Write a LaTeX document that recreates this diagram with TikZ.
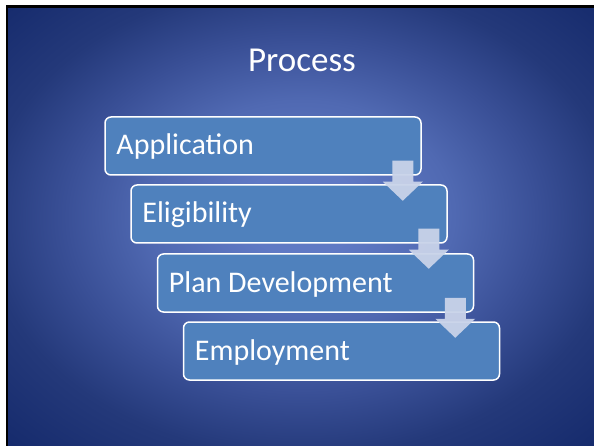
\documentclass[tikz,border=0pt]{standalone}
\usepackage{fontspec}
\setmainfont{Carlito}
\usetikzlibrary{calc}
\definecolor{bgin}{HTML}{5F79C4}
\definecolor{bgA}{HTML}{5069B2}
\definecolor{bgB}{HTML}{3A5097}
\definecolor{bgC}{HTML}{24397A}
\definecolor{bgout}{HTML}{152A6C}
\definecolor{boxfill}{HTML}{4F81BD}
\definecolor{arrowfill}{HTML}{C9D3E9}
\pgfdeclareradialshading{slidebg}{\pgfpoint{0bp}{2bp}}{color(0bp)=(bgin); color(5bp)=(bgin); color(13bp)=(bgA); color(20bp)=(bgB); color(27bp)=(bgC); color(36bp)=(bgout); color(50bp)=(bgout)}
\tikzset{
  stepbox/.style={draw=white, line width=1.5pt, rounded corners=6pt, fill=boxfill, minimum width=316pt, minimum height=58pt, inner sep=0pt},
  steptext/.style={anchor=base west, text=white, font=\fontsize{30}{36}\selectfont, inner sep=0pt},
  pics/downarrow/.style={code={
    \fill[arrowfill, fill opacity=0.95] (-10.5,0) -- (10.5,0) -- (10.5,21) -- (20,21) -- (0,40) -- (-20,21) -- (-10.5,21) -- cycle;
  }}
}
\begin{document}
\begin{tikzpicture}[x=1pt, y=-1pt]
\useasboundingbox (0,0) rectangle (594,446);
\fill[white] (0,0) rectangle (594,446);
\shade[shading=slidebg] (8,8) rectangle (595,447);
\fill[black] (6,5) rectangle (595,8);
\fill[black] (6,5) rectangle (8,447);
\node[text=white, font=\fontsize{35}{42}\selectfont, anchor=base, inner sep=0pt] (title) at (302,72) {Process};
\node[stepbox] (b1) at (263,146) {};
\node[stepbox] (b2) at (289,214) {};
\node[stepbox] (b3) at (315.5,283) {};
\node[stepbox] (b4) at (341.5,351) {};
\node[steptext] (t1) at ($(b1.west)+(12,9)$) {Application};
\node[steptext] (t2) at ($(b2.west)+(12,9)$) {Eligibility};
\node[steptext] (t3) at ($(b3.west)+(12,9)$) {Plan Development};
\node[steptext] (t4) at ($(b4.west)+(12,9)$) {Employment};
\pic at ($(b1.south east)+(-19,-15)$) {downarrow};
\pic at ($(b2.south east)+(-19,-15)$) {downarrow};
\pic at ($(b3.south east)+(-19,-15)$) {downarrow};
\end{tikzpicture}
\end{document}
